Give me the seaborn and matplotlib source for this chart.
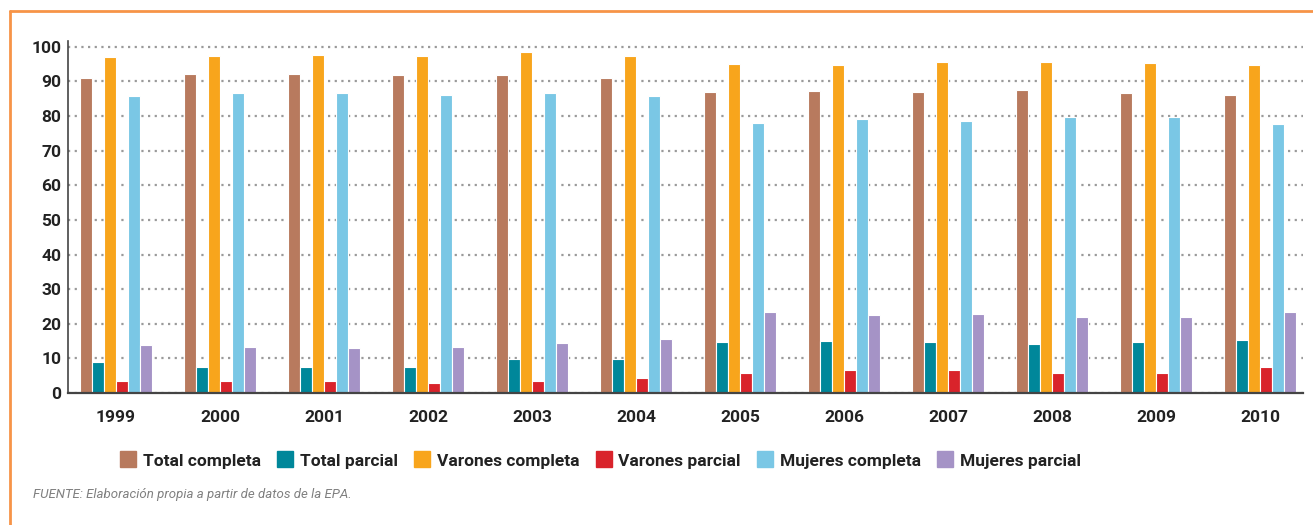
import matplotlib
matplotlib.use("Agg")
import matplotlib.pyplot as plt
from matplotlib.lines import Line2D
import seaborn as sns
import pandas as pd

years = ["1999", "2000", "2001", "2002", "2003", "2004",
         "2005", "2006", "2007", "2008", "2009", "2010"]
series_names = ["Total completa", "Total parcial", "Varones completa",
                "Varones parcial", "Mujeres completa", "Mujeres parcial"]

total_completa = [91.0, 92.2, 92.2, 91.9, 91.9, 91.0, 87.0, 87.3, 87.0, 87.6, 86.7, 86.1]
total_parcial = [9.0, 7.6, 7.6, 7.6, 9.9, 9.9, 14.8, 15.1, 14.8, 14.2, 14.8, 15.4]
varones_completa = [97.1, 97.4, 97.7, 97.4, 98.6, 97.4, 95.1, 94.8, 95.7, 95.7, 95.4, 94.8]
varones_parcial = [3.6, 3.6, 3.6, 3.0, 3.6, 4.4, 5.9, 6.7, 6.7, 5.9, 5.9, 7.6]
mujeres_completa = [85.9, 86.7, 86.7, 86.1, 86.7, 85.9, 78.1, 79.2, 78.6, 79.8, 79.8, 77.8]
mujeres_parcial = [14.0, 13.4, 13.1, 13.4, 14.5, 15.7, 23.5, 22.6, 22.9, 22.0, 22.0, 23.5]

colors = ["#B87A5E", "#00879A", "#F8A51C", "#D9232B", "#7AC7E5", "#A593C6"]

# long-form table for seaborn
all_series = [total_completa, total_parcial, varones_completa,
              varones_parcial, mujeres_completa, mujeres_parcial]
rows = []
for name, vals in zip(series_names, all_series):
    for y, v in zip(years, vals):
        rows.append({"year": y, "serie": name, "value": v})
df = pd.DataFrame(rows)

sns.set_style("white")
plt.rcParams["font.family"] = ["Roboto", "DejaVu Sans"]

fig = plt.figure(figsize=(13.13, 5.25), dpi=100)
ax = fig.add_axes([0.0518, 0.2514, 0.9406, 0.6705])

sns.barplot(data=df, x="year", y="value", hue="serie", order=years,
            hue_order=series_names, palette=colors, width=0.69,
            edgecolor="white", linewidth=0.8, saturation=1, legend=False, ax=ax)

ax.set_ylim(0, 101.7)
ax.set_xlim(-0.46, 11.41)
ax.set_yticks(range(0, 101, 10))
ax.yaxis.grid(True, linestyle=(0, (1, 2)), color="#9a9a9a", linewidth=1.6)
ax.set_axisbelow(True)
ax.set_xlabel("")
ax.set_ylabel("")
for s in ["top", "right"]:
    ax.spines[s].set_visible(False)
ax.spines["left"].set_color("#444444")
ax.spines["bottom"].set_color("#444444")
ax.spines["left"].set_linewidth(1.2)
ax.spines["bottom"].set_linewidth(1.6)
ax.tick_params(axis="both", length=0, labelsize=12.5, labelcolor="#222222")
ax.tick_params(axis="x", pad=12)
ax.tick_params(axis="y", pad=5)
for lab in ax.get_xticklabels() + ax.get_yticklabels():
    lab.set_fontweight("bold")

handles = [Line2D([0], [0], marker="s", linestyle="", markersize=12,
                  markerfacecolor=c, markeredgecolor=c) for c in colors]
leg = fig.legend(handles, series_names, loc="center", bbox_to_anchor=(0.457, 0.122),
                 ncol=6, frameon=False, fontsize=12.5, handletextpad=0.35,
                 columnspacing=0.9, handlelength=1.0)
for t in leg.get_texts():
    t.set_fontweight("bold")
    t.set_color("#222222")

fig.text(0.025, 0.051, "FUENTE: Elaboración propia a partir de datos de la EPA.",
         fontsize=9.5, style="italic", color="#808080")

# orange card border (top and left)
fig.add_artist(Line2D([0.0076, 1.0], [0.979, 0.979], color="#F79447", linewidth=2,
                      transform=fig.transFigure))
fig.add_artist(Line2D([0.0076, 0.0076], [0.0, 0.979], color="#F79447", linewidth=2,
                      transform=fig.transFigure))

fig.savefig("out.png", dpi=100)
